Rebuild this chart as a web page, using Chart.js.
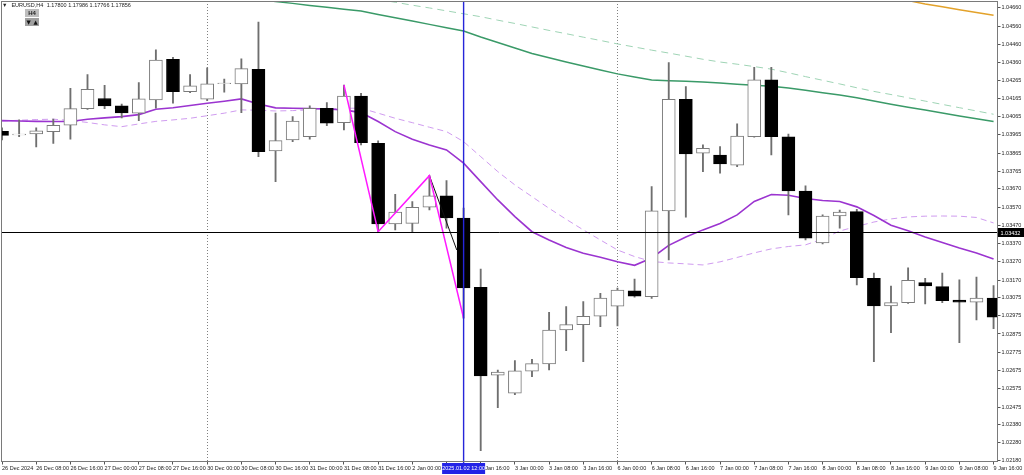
<!DOCTYPE html>
<html>
<head>
<meta charset="utf-8">
<title>EURUSD,H4</title>
<script src="https://cdn.jsdelivr.net/npm/chart.js@4.4.1/dist/chart.umd.min.js"></script>
<style>
  html, body { margin: 0; padding: 0; background: #fff; }
  #wrap { position: relative; width: 1024px; height: 475px; overflow: hidden; }
  #c { display: block; }
  .hdr { position: absolute; left: 2px; top: 2px; font: 5.5px "Liberation Sans", Arial, sans-serif; line-height: 7px; color: #222; white-space: nowrap; }
  .hdr .sym { margin-left: 4px; }
  .hdr .ohlc { margin-left: 2px; }
  .tf { position: absolute; left: 25px; top: 9px; width: 14px; height: 8px; background: #bdbdbd; color: #222;
        font: bold 6px "Liberation Sans", Arial, sans-serif; line-height: 8px; text-align: center; }
  .btn { position: absolute; top: 18px; width: 7px; height: 8px; background: #a0a0a0; color: #111;
         font: 5.5px "DejaVu Sans", sans-serif; line-height: 8px; text-align: center; }
</style>
</head>
<body>
<div id="wrap">
  <canvas id="c" width="1024" height="475"></canvas>
  <div class="hdr">▼<span class="sym">EURUSD,H4</span> <span class="ohlc">1.17800 1.17986 1.17766 1.17856</span></div>
  <div class="tf">H4</div>
  <div class="btn" style="left:25px">▼</div>
  <div class="btn" style="left:32px">▲</div>
</div>
<script>
// ---- candles (H4, 26 Dec 2024 00:00 -> 9 Jan 2025 16:00) ----
const candleIndex = [
  0, 1, 2, 3, 4, 5, 6, 7, 8, 9, 10, 11, 12, 13, 14, 15, 16, 17, 18, 19,
  20, 21, 22, 23, 24, 25, 26, 27, 28, 29, 30, 31, 32, 33, 34, 35, 36, 37, 38, 39,
  40, 41, 42, 43, 44, 45, 46, 47, 48, 49, 50, 51, 52, 53, 54, 55, 56, 57, 58
];
const opens = [
  1.03984, 1.03965, 1.03970, 1.03983, 1.04018, 1.04109, 1.04164, 1.04124, 1.04084, 1.04156,
  1.04379, 1.04202, 1.04160, 1.04245, 1.04244, 1.04324, 1.03877, 1.03937, 1.03955, 1.04111,
  1.04032, 1.04178, 1.03919, 1.03478, 1.03481, 1.03569, 1.03631, 1.03509, 1.03131, 1.02649,
  1.02551, 1.02671, 1.02711, 1.02897, 1.02926, 1.02972, 1.03027, 1.03112, 1.03080, 1.03549,
  1.04160, 1.03865, 1.03854, 1.03799, 1.03955, 1.04266, 1.03955, 1.03658, 1.03374, 1.03521,
  1.03545, 1.03180, 1.03029, 1.03047, 1.03156, 1.03134, 1.03061, 1.03049, 1.03072
];
const highs = [
  1.04003, 1.04047, 1.04003, 1.04051, 1.04220, 1.04295, 1.04237, 1.04134, 1.04251, 1.04430,
  1.04390, 1.04295, 1.04332, 1.04270, 1.04382, 1.04583, 1.04084, 1.04065, 1.04124, 1.04142,
  1.04238, 1.04193, 1.03932, 1.03640, 1.03600, 1.03742, 1.03715, 1.03565, 1.03231, 1.02678,
  1.02729, 1.02737, 1.02994, 1.03025, 1.03052, 1.03098, 1.03127, 1.03175, 1.03682, 1.04361,
  1.04229, 1.03910, 1.03901, 1.04025, 1.04335, 1.04335, 1.03970, 1.03686, 1.03527, 1.03554,
  1.03558, 1.03208, 1.03138, 1.03237, 1.03180, 1.03208, 1.03171, 1.03186, 1.03140
];
const lows = [
  1.03937, 1.03955, 1.03899, 1.03919, 1.03941, 1.04104, 1.04109, 1.04058, 1.04043, 1.04111,
  1.04138, 1.04196, 1.04153, 1.04199, 1.04087, 1.03846, 1.03709, 1.03928, 1.03941, 1.04016,
  1.03992, 1.03910, 1.03435, 1.03445, 1.03432, 1.03554, 1.03454, 1.02961, 1.02236, 1.02472,
  1.02543, 1.02642, 1.02678, 1.02784, 1.02724, 1.02915, 1.02919, 1.03076, 1.03070, 1.03280,
  1.03514, 1.03764, 1.03755, 1.03791, 1.03952, 1.03855, 1.03527, 1.03390, 1.03368, 1.03454,
  1.03144, 1.02724, 1.02882, 1.03043, 1.03040, 1.03047, 1.02828, 1.02952, 1.02904
];
const closes = [
  1.03962, 1.03970, 1.03987, 1.04018, 1.04109, 1.04215, 1.04124, 1.04085, 1.04162, 1.04375,
  1.04202, 1.04233, 1.04244, 1.04248, 1.04328, 1.03873, 1.03934, 1.04041, 1.04111, 1.04029,
  1.04178, 1.03923, 1.03478, 1.03543, 1.03569, 1.03631, 1.03510, 1.03127, 1.02645, 1.02666,
  1.02674, 1.02713, 1.02897, 1.02926, 1.02972, 1.03071, 1.03116, 1.03082, 1.03549, 1.04160,
  1.03861, 1.03892, 1.03806, 1.03959, 1.04266, 1.03955, 1.03658, 1.03399, 1.03521, 1.03542,
  1.03183, 1.03029, 1.03047, 1.03169, 1.03138, 1.03058, 1.03049, 1.03072, 1.02967
];

// ---- indicator lines ----
const maFast = [
  1.04043, 1.04041, 1.04039, 1.04038, 1.04038, 1.04051, 1.04058, 1.04065, 1.04076, 1.04105,
  1.04114, 1.04126, 1.04138, 1.04149, 1.04162, 1.04134, 1.04113, 1.04111, 1.04109, 1.04107,
  1.04102, 1.04087, 1.04038, 1.03983, 1.03941, 1.03910, 1.03883, 1.03810, 1.03709, 1.03609,
  1.03518, 1.03435, 1.03390, 1.03348, 1.03317, 1.03295, 1.03271, 1.03251, 1.03291, 1.03360,
  1.03406, 1.03445, 1.03480, 1.03527, 1.03601, 1.03639, 1.03635, 1.03617, 1.03606, 1.03600,
  1.03571, 1.03524, 1.03470, 1.03440, 1.03406, 1.03376, 1.03346, 1.03319, 1.03286
];
const maFastDashed = [
  1.04041, 1.04045, 1.04049, 1.04051, 1.04044, 1.04033, 1.04020, 1.04010, 1.04025, 1.04039,
  1.04047, 1.04056, 1.04070, 1.04084, 1.04102, 1.04100, 1.04096, 1.04098, 1.04102, 1.04105,
  1.04111, 1.04111, 1.04084, 1.04056, 1.04032, 1.04007, 1.03983, 1.03928, 1.03846, 1.03764,
  1.03691, 1.03627, 1.03563, 1.03503, 1.03445, 1.03390, 1.03335, 1.03299, 1.03272, 1.03264,
  1.03259, 1.03253, 1.03270, 1.03294, 1.03319, 1.03341, 1.03354, 1.03363, 1.03395, 1.03439,
  1.03464, 1.03488, 1.03505, 1.03516, 1.03520, 1.03521, 1.03520, 1.03513, 1.03483
];
const maSlow = [
  null, null, null, null, null, null, null, null, null, null,
  null, null, null, null, null, 1.04706, 1.04695, 1.04685, 1.04674, 1.04664,
  1.04653, 1.04643, 1.04624, 1.04606, 1.04588, 1.04570, 1.04552, 1.04534, 1.04501, 1.04471,
  1.04441, 1.04411, 1.04387, 1.04364, 1.04342, 1.04320, 1.04299, 1.04282, 1.04266, 1.04261,
  1.04258, 1.04255, 1.04249, 1.04242, 1.04237, 1.04231, 1.04222, 1.04209, 1.04196, 1.04183,
  1.04168, 1.04150, 1.04133, 1.04116, 1.04101, 1.04085, 1.04069, 1.04053, 1.04038
];
const maSlowDashed = [
  null, null, null, null, null, null, null, null, null, null,
  null, null, null, null, null, null, null, null, null, null,
  null, null, 1.04707, 1.04691, 1.04675, 1.04660, 1.04644, 1.04628, 1.04612, 1.04593,
  1.04575, 1.04556, 1.04537, 1.04519, 1.04500, 1.04482, 1.04463, 1.04446, 1.04429, 1.04413,
  1.04396, 1.04379, 1.04364, 1.04352, 1.04339, 1.04325, 1.04305, 1.04284, 1.04264, 1.04244,
  1.04223, 1.04203, 1.04186, 1.04168, 1.04150, 1.04132, 1.04114, 1.04096, 1.04078
];
const maLong = [
  null, null, null, null, null, null, null, null, null, null,
  null, null, null, null, null, null, null, null, null, null,
  null, null, null, null, null, null, null, null, null, null,
  null, null, null, null, null, null, null, null, null, null,
  null, null, null, null, null, null, null, null, null, null,
  null, null, null, 1.04700, 1.04681, 1.04666, 1.04650, 1.04635, 1.04620
];
const zigzagIndex = [20, 22, 25, 27];
const zigzagPrice = [1.04238, 1.03435, 1.03742, 1.02961];
const zigzagTailIndex = [25, 26.6];
const zigzagTailPrice = [1.03742, 1.03335];

// ---- axes / markers ----
const xTickIndex = [0, 2, 4, 6, 8, 10, 12, 14, 16, 18, 20, 22, 24, 26, 28, 30, 32, 34, 36, 38, 40, 42, 44, 46, 48, 50, 52, 54, 56, 58];
const xTickLabels = [
  "26 Dec 2024", "26 Dec 08:00", "26 Dec 16:00", "27 Dec 00:00", "27 Dec 08:00", "27 Dec 16:00",
  "30 Dec 00:00", "30 Dec 08:00", "30 Dec 16:00", "31 Dec 00:00", "31 Dec 08:00", "31 Dec 16:00",
  "2 Jan 00:00", "2 Jan 08:00", "2 Jan 16:00", "3 Jan 00:00", "3 Jan 08:00", "3 Jan 16:00",
  "6 Jan 00:00", "6 Jan 08:00", "6 Jan 16:00", "7 Jan 00:00", "7 Jan 08:00", "7 Jan 16:00",
  "8 Jan 00:00", "8 Jan 08:00", "8 Jan 16:00", "9 Jan 00:00", "9 Jan 08:00", "9 Jan 16:00"
];
const yTicks = [
  1.04660, 1.04560, 1.04460, 1.04360, 1.04265, 1.04165, 1.04065, 1.03965, 1.03865, 1.03765,
  1.03670, 1.03570, 1.03470, 1.03370, 1.03270, 1.03170, 1.03075, 1.02975, 1.02875, 1.02775,
  1.02675, 1.02575, 1.02475, 1.02380, 1.02280, 1.02180
];
const priceMin = 1.02177;
const priceMax = 1.04698;
const currentPrice = 1.03432;
const crosshairIndex = 27;
const crosshairLabel = "2025.01.02 12:00";
const weekSeparators = [12, 36];

const FONT = '"Liberation Sans", Arial, sans-serif';

function points(values) {
  return candleIndex.map(i => ({ x: i, y: values[i] }));
}

const isBull = candleIndex.map(i => closes[i] >= opens[i]);

const datasets = [
  {
    type: 'line', data: points(maSlowDashed), borderColor: '#9fd4b5', borderWidth: 1,
    borderDash: [7, 5], pointRadius: 0, tension: 0, order: 12, clip: 0
  },
  {
    type: 'line', data: points(maSlow), borderColor: '#3a9a68', borderWidth: 1.5,
    pointRadius: 0, tension: 0, order: 11, clip: 0
  },
  {
    type: 'line', data: points(maLong), borderColor: '#e3a22a', borderWidth: 1.5,
    pointRadius: 0, tension: 0, order: 11, clip: 0
  },
  {
    type: 'line', data: points(maFastDashed), borderColor: '#d09cf0', borderWidth: 1,
    borderDash: [6, 4], pointRadius: 0, tension: 0, order: 10, clip: 0
  },
  {
    type: 'line', data: points(maFast), borderColor: '#9b34d0', borderWidth: 1.6,
    pointRadius: 0, tension: 0, order: 9, clip: 0
  },
  {
    type: 'bar', data: candleIndex.map(i => ({ x: i, y: [lows[i], highs[i]] })),
    backgroundColor: '#6f6f6f', barThickness: 1.2, grouped: false, order: 6, clip: 0
  },
  {
    type: 'bar', data: candleIndex.map(i => ({ x: i, y: [opens[i], closes[i]] })),
    backgroundColor: isBull.map(b => b ? '#ffffff' : '#000000'),
    borderColor: isBull.map(b => b ? '#7a7a7a' : '#000000'),
    borderWidth: 1, borderSkipped: false, barThickness: 13, grouped: false, order: 5, clip: 0
  },
  {
    type: 'line', data: zigzagTailIndex.map((x, k) => ({ x, y: zigzagTailPrice[k] })),
    borderColor: '#111', borderWidth: 1, pointRadius: 0, tension: 0, order: 3, clip: 0
  },
  {
    type: 'line', data: zigzagIndex.map((x, k) => ({ x, y: zigzagPrice[k] })),
    borderColor: '#ff1aff', borderWidth: 1.5, pointRadius: 0, tension: 0, order: 2, clip: 0
  }
];

const terminalMarks = {
  id: 'terminalMarks',
  beforeDraw(chart) {
    const { ctx, width, height } = chart;
    ctx.save();
    ctx.fillStyle = '#fff';
    ctx.fillRect(0, 0, width, height);
    ctx.restore();
  },
  beforeDatasetsDraw(chart) {
    const { ctx, chartArea: a, scales: { x } } = chart;
    ctx.save();
    ctx.strokeStyle = '#808080';
    ctx.lineWidth = 1;
    ctx.setLineDash([1, 2]);
    weekSeparators.forEach(i => {
      const px = Math.round(x.getPixelForValue(i)) + 0.5;
      ctx.beginPath();
      ctx.moveTo(px, a.top);
      ctx.lineTo(px, a.bottom);
      ctx.stroke();
    });
    ctx.restore();
  },
  afterDatasetsDraw(chart) {
    const { ctx, chartArea: a, scales: { x, y } } = chart;
    ctx.save();
    // bid line
    const py = Math.round(y.getPixelForValue(currentPrice)) + 0.5;
    ctx.strokeStyle = '#000';
    ctx.lineWidth = 1;
    ctx.beginPath();
    ctx.moveTo(a.left, py);
    ctx.lineTo(a.right, py);
    ctx.stroke();
    // crosshair
    const cx = x.getPixelForValue(crosshairIndex);
    ctx.strokeStyle = '#2626d9';
    ctx.lineWidth = 1.4;
    ctx.beginPath();
    ctx.moveTo(cx, a.top);
    ctx.lineTo(cx, a.bottom + 3);
    ctx.stroke();
    ctx.restore();
  },
  afterDraw(chart) {
    const { ctx, chartArea: a, scales: { x, y }, width, height } = chart;
    ctx.save();
    // chart frame
    ctx.strokeStyle = '#7a7a7a';
    ctx.lineWidth = 1;
    ctx.strokeRect(Math.floor(a.left) + 0.5, Math.floor(a.top) + 0.5,
      Math.floor(a.right) - Math.floor(a.left), Math.floor(a.bottom) - Math.floor(a.top));

    ctx.font = '5.5px ' + FONT;
    ctx.textBaseline = 'middle';

    // current price tag on the price scale
    const py = Math.round(y.getPixelForValue(currentPrice)) + 0.5;
    ctx.fillStyle = '#000';
    ctx.fillRect(Math.floor(a.right) + 1, py - 4.5, width - Math.floor(a.right) - 1, 9);
    ctx.fillStyle = '#fff';
    ctx.textAlign = 'left';
    ctx.fillText(currentPrice.toFixed(5), Math.floor(a.right) + 3.5, py + 0.5);

    // crosshair time tag on the time scale
    const cx = x.getPixelForValue(crosshairIndex);
    ctx.fillStyle = '#2323e6';
    ctx.fillRect(cx - 21.5, Math.floor(a.bottom) + 2, 43, height - Math.floor(a.bottom) - 3);
    ctx.fillStyle = '#fff';
    ctx.textAlign = 'center';
    ctx.fillText(crosshairLabel, cx, Math.floor(a.bottom) + 7.5);
    ctx.restore();
  }
};

new Chart(document.getElementById('c'), {
  type: 'bar',
  data: { datasets },
  plugins: [terminalMarks],
  options: {
    responsive: false,
    animation: false,
    devicePixelRatio: 1,
    events: [],
    layout: { padding: { left: 1, top: 1, right: 0, bottom: 0 } },
    plugins: { legend: { display: false }, tooltip: { enabled: false } },
    scales: {
      x: {
        type: 'linear', position: 'bottom', min: -0.06, max: 58.23, offset: false,
        grid: { display: true, drawOnChartArea: false, drawTicks: true, tickLength: 3, color: '#555', offset: false },
        border: { display: false },
        ticks: {
          autoSkip: false, maxRotation: 0, minRotation: 0, align: 'start', padding: 1,
          color: '#222', font: { family: FONT, size: 5.5 },
          callback: (v, i) => xTickLabels[i]
        },
        afterBuildTicks: s => { s.ticks = xTickIndex.map(v => ({ value: v })); },
        afterFit: s => { s.height = 13.5; s.paddingLeft = 0; s.paddingRight = 0; }
      },
      y: {
        type: 'linear', position: 'right', min: priceMin, max: priceMax,
        grid: { display: true, drawOnChartArea: false, drawTicks: true, tickLength: 3, color: '#555' },
        border: { display: false },
        ticks: {
          autoSkip: false, crossAlign: 'near', padding: 1,
          color: '#222', font: { family: FONT, size: 5.5 },
          callback: v => Number(v).toFixed(5)
        },
        afterBuildTicks: s => { s.ticks = yTicks.map(v => ({ value: v })); },
        afterFit: s => { s.width = 26.5; s.paddingTop = 0; s.paddingBottom = 0; }
      }
    }
  }
});
</script>
</body>
</html>
